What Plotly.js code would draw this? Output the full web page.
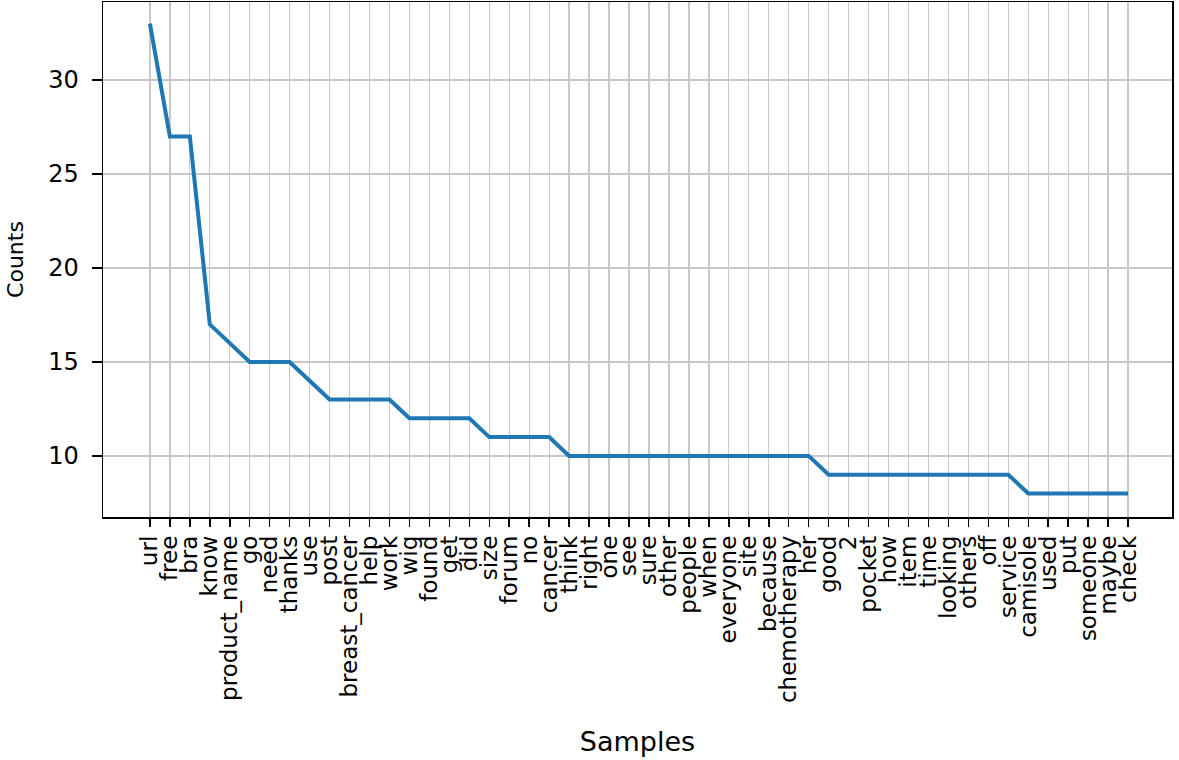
<!DOCTYPE html>
<html>
<head>
<meta charset="utf-8">
<script src="https://cdn.plot.ly/plotly-3.0.1.min.js"></script>
<style>
  body { margin: 0; background: #fff; }
  #chart { width: 1179px; height: 760px; }
</style>
</head>
<body>
<div id="chart"></div>
<script>
// word frequencies, most common 50
const words = ['url', 'free', 'bra', 'know', 'product_name', 'go', 'need', 'thanks', 'use', 'post',
    'breast_cancer', 'help', 'work', 'wig', 'found', 'get', 'did', 'size', 'forum', 'no',
    'cancer', 'think', 'right', 'one', 'see', 'sure', 'other', 'people', 'when', 'everyone',
    'site', 'because', 'chemotherapy', 'her', 'good', '2', 'pocket', 'how', 'item', 'time',
    'looking', 'others', 'off', 'service', 'camisole', 'used', 'put', 'someone', 'maybe', 'check'];
const counts = [33, 27, 27, 17, 16, 15, 15, 15, 14, 13,
    13, 13, 13, 12, 12, 12, 12, 11, 11, 11,
    11, 10, 10, 10, 10, 10, 10, 10, 10, 10,
    10, 10, 10, 10, 9, 9, 9, 9, 9, 9,
    9, 9, 9, 9, 8, 8, 8, 8, 8, 8];
const yTicks = [10, 15, 20, 25, 30];

const idx = words.map((w, i) => i);

const trace = {
    x: idx,
    y: counts,
    type: 'scatter',
    mode: 'lines',
    line: {color: '#1f77b4', width: 4}
};

const layout = {
    width: 1179,
    height: 760,
    paper_bgcolor: '#fff',
    plot_bgcolor: '#fff',
    showlegend: false,
    font: {family: 'DejaVu Sans', color: '#000'},
    margin: {l: 103, r: 7, t: 2, b: 243},
    xaxis: {
        range: [-2.35, 51.2],
        tickmode: 'array',
        tickvals: idx,
        ticktext: words,
        tickangle: -90,
        tickfont: {size: 23},
        ticks: 'outside',
        ticklen: 8,
        tickwidth: 1.5,
        tickcolor: '#000',
        showgrid: true,
        gridcolor: '#c8c8c8',
        gridwidth: 1.3,
        zeroline: false,
        showline: true,
        linecolor: '#000',
        linewidth: 1.5,
        mirror: true,
        automargin: false,
        title: {text: 'Samples', font: {size: 27}, standoff: 30}
    },
    yaxis: {
        range: [6.75, 34.15],
        tickmode: 'array',
        tickvals: yTicks,
        ticktext: yTicks.map(String),
        tickfont: {size: 24},
        ticks: 'outside',
        ticklen: 10,
        ticklabelstandoff: 8,
        tickwidth: 1.5,
        tickcolor: '#000',
        showgrid: true,
        gridcolor: '#c8c8c8',
        gridwidth: 1.3,
        zeroline: false,
        showline: true,
        linecolor: '#000',
        linewidth: 1.5,
        mirror: true,
        automargin: false,
        title: {text: 'Counts', font: {size: 22}, standoff: 18}
    }
};

Plotly.newPlot('chart', [trace], layout, {displayModeBar: false, staticPlot: true});
</script>
</body>
</html>
